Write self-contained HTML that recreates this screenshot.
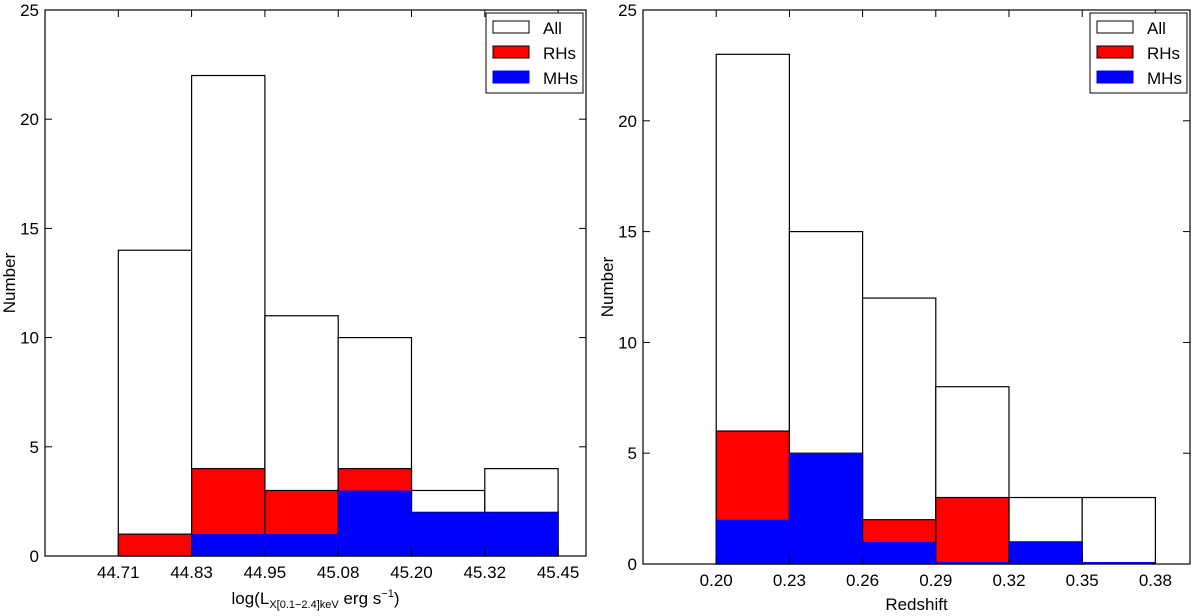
<!DOCTYPE html>
<html><head><meta charset="utf-8"><style>
body{margin:0;background:#fff;}
svg{display:block;font-family:"Liberation Sans",sans-serif;}
</style></head><body>
<svg id="c" width="1200" height="616"></svg>
<script>
const leftTicks=["44.71","44.83","44.95","45.08","45.20","45.32","45.45"];
const leftAll=[14,22,11,10,3,4];
const leftRH=[1,4,3,4,2,2];
const leftMH=[0,1,1,3,2,2];
const rightTicks=["0.20","0.23","0.26","0.29","0.32","0.35","0.38"];
const rightAll=[23,15,12,8,3,3];
const rightRH=[6,5,2,3,1,0];
const rightMH=[2,5,1,0,1,0];
const yTicks=[0,5,10,15,20,25];
const NS="http://www.w3.org/2000/svg";
const svg=document.getElementById('c');
function mk(tag,attrs,parent,text){const e=document.createElementNS(NS,tag);for(const k in attrs)e.setAttribute(k,attrs[k]);if(text!==undefined)e.textContent=text;(parent||svg).appendChild(e);return e;}
function panel(p){
  const g=mk('g',{});
  
  
  const x=i=>p.x0+p.bw*(i+1);
  const y=v=>p.yb-(p.yb-p.yt)*v/25;
  const series=[[p.all,'#fff','#000','all'],[p.rh,'#f00','#000','rh'],[p.mh,'#00f','none','mh']];
  series.forEach(([arr,fill,stroke,nm])=>{
    arr.forEach((v,i)=>{
      if(v===0&&nm!=='all'){
        if(p.zeroLines&&nm==='mh'){mk('line',{x1:x(i),x2:x(i)+p.bw,y1:y(0)-1,y2:y(0)-1,stroke:'#00f','stroke-width':2},g);}
        return;
      }
      const r=mk('rect',{x:x(i),y:y(v),width:p.bw,height:Math.max(y(0)-y(v),0),fill:fill,stroke:stroke,'stroke-width':1.2},g);
      
      
    });
  });
  mk('rect',{x:p.x0,y:p.yt,width:p.x1-p.x0,height:p.yb-p.yt,fill:'none',stroke:'#000','stroke-width':1.2},g);
  yTicks.forEach(t=>{
    const yy=y(t);
    mk('line',{x1:p.x0,x2:p.x0+7,y1:yy,y2:yy,stroke:'#000'},g);
    mk('line',{x1:p.x1,x2:p.x1-7,y1:yy,y2:yy,stroke:'#000'},g);
    const tl=mk('text',{x:p.x0-6,y:yy+6,'text-anchor':'end','font-size':17},g,t);
    
    
  });
  p.ticks.forEach((t,i)=>{
    const xx=x(i);
    mk('line',{x1:xx,x2:xx,y1:p.yb,y2:p.yb-7,stroke:'#000'},g);
    mk('line',{x1:xx,x2:xx,y1:p.yt,y2:p.yt+7,stroke:'#000'},g);
    const tl=mk('text',{x:xx,y:p.yb+22,'text-anchor':'middle','font-size':17},g,t);
    
    
  });
  const yl=mk('text',{x:0,y:0,transform:`translate(${p.x0-30},${(p.yt+p.yb)/2}) rotate(-90)`,'text-anchor':'middle','font-size':17},g,'Number');
  
  
  const xl=mk('text',{x:(p.x0+p.x1)/2,y:p.xly,'text-anchor':'middle','font-size':17},g);
  
  
  xl.innerHTML=p.xlabel;
  const lx=p.x1-100, ly=p.yt+3;
  const lg=mk('g',{},g);
  
  
  mk('rect',{x:lx,y:ly,width:97,height:80,fill:'#fff',stroke:'#000'},lg);
  [['All','#fff','#000'],['RHs','#f00','#000'],['MHs','#00f','#00f']].forEach(([t,f,s],k)=>{
    mk('rect',{x:lx+7,y:ly+8+k*25,width:36,height:12,fill:f,stroke:s},lg);
    const tt=mk('text',{x:lx+57,y:ly+21+k*25,'font-size':17},lg,t);
    
    
  });
}
panel({name:'left-panel',x0:45,x1:586,yt:10,yb:556,bw:73.3,zeroLines:false,ticks:leftTicks,all:leftAll,rh:leftRH,mh:leftMH,xly:604,
 xlabel:'log(L<tspan font-size="11" dy="4">X[0.1−2.4]keV</tspan><tspan dy="-4"> erg s</tspan><tspan font-size="11" dy="-7">−1</tspan><tspan dy="7">)</tspan>'});
panel({name:'right-panel',x0:643,x1:1190,yt:10,yb:564,bw:73.2,zeroLines:true,ticks:rightTicks,all:rightAll,rh:rightRH,mh:rightMH,xly:610,xlabel:'Redshift'});
</script>
</body></html>
